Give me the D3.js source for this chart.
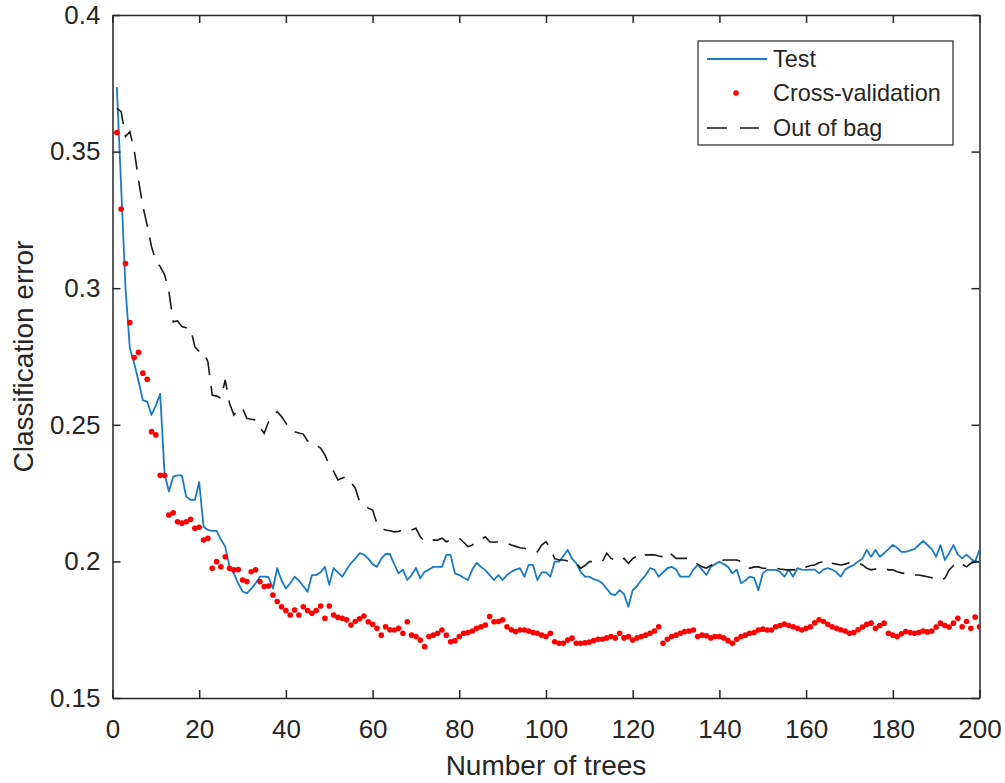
<!DOCTYPE html>
<html>
<head>
<meta charset="utf-8">
<script src="https://cdn.jsdelivr.net/npm/d3@7"></script>
<style>
  html, body { margin: 0; padding: 0; background: #fff; }
  svg { display: block; font-family: "Liberation Sans", Arial, Helvetica, sans-serif; }
</style>
</head>
<body>
<svg id="chart" width="1005" height="783"></svg>
<script>
// ---- data ----
const testError = [
  0.3736, 0.337, 0.300, 0.278, 0.2725, 0.266, 0.259, 0.2585, 0.2536, 0.257,
  0.2613, 0.2323, 0.2256, 0.231, 0.2315, 0.2315, 0.2237, 0.2225, 0.2225, 0.229,
  0.2127, 0.2115, 0.2112, 0.2112, 0.208, 0.2054, 0.198, 0.1956, 0.192, 0.189,
  0.1883, 0.190, 0.192, 0.1944, 0.1944, 0.1942, 0.1901, 0.1975, 0.193, 0.1901,
  0.192, 0.1944, 0.193, 0.191, 0.1889, 0.195, 0.195, 0.196, 0.198, 0.1914,
  0.1975, 0.196, 0.1944, 0.197, 0.1993, 0.201, 0.203, 0.2025, 0.201, 0.199,
  0.198, 0.201, 0.2027, 0.2027, 0.199, 0.1956, 0.197, 0.1932, 0.195, 0.1976,
  0.1938, 0.1962, 0.197, 0.198, 0.198, 0.198, 0.2024, 0.2024, 0.1956, 0.195,
  0.194, 0.1932, 0.197, 0.1995, 0.198, 0.1968, 0.195, 0.1932, 0.195, 0.1932,
  0.195, 0.1962, 0.197, 0.1975, 0.1944, 0.1987, 0.1987, 0.1932, 0.196, 0.196,
  0.1944, 0.1999, 0.1999, 0.202, 0.2042, 0.201, 0.1993, 0.1962, 0.1944, 0.1944,
  0.1935, 0.193, 0.192, 0.190, 0.188, 0.1877, 0.1895, 0.188, 0.1834, 0.1895,
  0.191, 0.1932, 0.195, 0.1975, 0.197, 0.1944, 0.196, 0.1975, 0.198, 0.197,
  0.1944, 0.1944, 0.1944, 0.197, 0.1987, 0.197, 0.195, 0.198, 0.199, 0.1999,
  0.199, 0.198, 0.1956, 0.197, 0.192, 0.193, 0.1944, 0.194, 0.1895, 0.1956,
  0.1969, 0.1969, 0.1969, 0.1962, 0.1944, 0.197, 0.1944, 0.1975, 0.197, 0.1969,
  0.197, 0.197, 0.1956, 0.197, 0.1975, 0.197, 0.196, 0.1944, 0.197, 0.198,
  0.1987, 0.200, 0.201, 0.2042, 0.2017, 0.2042, 0.2017, 0.203, 0.2045, 0.206,
  0.205, 0.2035, 0.2035, 0.204, 0.2045, 0.206, 0.2075, 0.206, 0.2045, 0.2017,
  0.206, 0.2005, 0.203, 0.206, 0.2025, 0.2011, 0.2025, 0.201, 0.1999, 0.2042
];

const cvError = [
  0.357, 0.329, 0.309, 0.2874, 0.2746, 0.2765, 0.2689, 0.2667, 0.2475, 0.2463,
  0.2315, 0.2315, 0.217, 0.2178, 0.2145, 0.214, 0.2145, 0.2154, 0.2121, 0.2125,
  0.2078, 0.2085, 0.1975, 0.1999, 0.198, 0.2017, 0.1975, 0.1969, 0.197, 0.1932,
  0.1926, 0.1962, 0.1969, 0.1926, 0.1908, 0.191, 0.1877, 0.1853, 0.1834, 0.182,
  0.1804, 0.1822, 0.1804, 0.1834, 0.182, 0.181, 0.182, 0.1837, 0.1792, 0.1837,
  0.1804, 0.1795, 0.1792, 0.1786, 0.1767, 0.178, 0.179, 0.18, 0.1779, 0.177,
  0.1755, 0.173, 0.1761, 0.175, 0.1749, 0.1755, 0.1737, 0.1779, 0.173, 0.1725,
  0.1712, 0.1688, 0.1725, 0.173, 0.1737, 0.1749, 0.173, 0.1706, 0.171, 0.1725,
  0.1737, 0.174, 0.1745, 0.1755, 0.1761, 0.1767, 0.1798, 0.1779, 0.178, 0.1786,
  0.1761, 0.175, 0.1743, 0.1749, 0.1749, 0.1745, 0.174, 0.1737, 0.173, 0.1725,
  0.1737, 0.1706, 0.170, 0.170, 0.1712, 0.1719, 0.170, 0.170, 0.1702, 0.1705,
  0.171, 0.1715, 0.1715, 0.172, 0.1725, 0.172, 0.1737, 0.172, 0.1725, 0.1712,
  0.172, 0.1725, 0.173, 0.1737, 0.1745, 0.1761, 0.170, 0.1715, 0.1725, 0.173,
  0.1737, 0.1743, 0.1745, 0.1749, 0.1725, 0.173, 0.1728, 0.172, 0.1725, 0.1725,
  0.172, 0.171, 0.170, 0.1715, 0.1725, 0.173, 0.1737, 0.174, 0.1749, 0.1752,
  0.1749, 0.1749, 0.1761, 0.1765, 0.1771, 0.1765, 0.1761, 0.1755, 0.1749, 0.1755,
  0.1761, 0.1775, 0.1786, 0.178, 0.177, 0.1761, 0.1755, 0.175, 0.1745, 0.1737,
  0.174, 0.175, 0.176, 0.177, 0.1774, 0.1755, 0.1765, 0.1774, 0.1737, 0.173,
  0.1725, 0.1735, 0.1743, 0.174, 0.1737, 0.174, 0.1745, 0.1742, 0.1745, 0.176,
  0.1774, 0.1765, 0.176, 0.1774, 0.1792, 0.1761, 0.178, 0.1755, 0.1796, 0.1761
];

const oobError = [
  0.3658, 0.3646, 0.3555, 0.3573, 0.3506, 0.3396, 0.3300, 0.3230, 0.3152, 0.3100,
  0.3079, 0.3050, 0.2990, 0.2877, 0.2880, 0.2860, 0.2855, 0.2853, 0.2786, 0.2768,
  0.2768, 0.2731, 0.2609, 0.2605, 0.2597, 0.2664, 0.2579, 0.2536, 0.2560, 0.2560,
  0.2524, 0.2520, 0.2518, 0.2490, 0.2469, 0.2511, 0.2530, 0.2548, 0.2530, 0.2506,
  0.2481, 0.2475, 0.2470, 0.2466, 0.2441, 0.2438, 0.2425, 0.2415, 0.2390, 0.2353,
  0.2330, 0.2298, 0.2305, 0.2310, 0.2290, 0.2268, 0.2219, 0.2207, 0.2195, 0.2188,
  0.2139, 0.2121, 0.2115, 0.2112, 0.2108, 0.2110, 0.2115, 0.2110, 0.2115, 0.2121,
  0.2090, 0.2072, 0.2075, 0.2078, 0.2078, 0.2085, 0.2072, 0.2078, 0.2080, 0.2085,
  0.2070, 0.2054, 0.2060, 0.2072, 0.2080, 0.2090, 0.2072, 0.2070, 0.2072, 0.2070,
  0.2066, 0.2060, 0.2055, 0.2050, 0.2048, 0.2042, 0.2040, 0.2035, 0.2060, 0.2072,
  0.2050, 0.2010, 0.2005, 0.2005, 0.2002, 0.2000, 0.1993, 0.1975, 0.1985, 0.1999,
  0.1999, 0.1999, 0.1999, 0.2030, 0.2011, 0.2005, 0.1999, 0.2011, 0.1993, 0.2010,
  0.2020, 0.2011, 0.2024, 0.2024, 0.2024, 0.2020, 0.2017, 0.2035, 0.2025, 0.2011,
  0.2011, 0.2011, 0.2011, 0.2000, 0.1990, 0.1980, 0.1975, 0.1985, 0.1993, 0.2000,
  0.2005, 0.2005, 0.2005, 0.2005, 0.2000, 0.1990, 0.1975, 0.1980, 0.1980, 0.1975,
  0.1975, 0.1975, 0.1975, 0.1972, 0.1970, 0.1969, 0.1969, 0.1969, 0.1969, 0.1980,
  0.1985, 0.1987, 0.1995, 0.2000, 0.2005, 0.1993, 0.1990, 0.1987, 0.1990, 0.1995,
  0.1999, 0.1995, 0.1987, 0.1975, 0.1969, 0.1972, 0.1975, 0.1975, 0.1969, 0.1969,
  0.1962, 0.1958, 0.1955, 0.1950, 0.1950, 0.1950, 0.1947, 0.1944, 0.1940, 0.1932,
  0.1932, 0.1938, 0.1969, 0.1985, 0.1999, 0.1990, 0.1980, 0.1993, 0.1999, 0.1999
];

const xTicks = [0, 20, 40, 60, 80, 100, 120, 140, 160, 180, 200];
const yTicks = [0.15, 0.2, 0.25, 0.3, 0.35, 0.4];
const yTickLabels = ["0.15", "0.2", "0.25", "0.3", "0.35", "0.4"];
const seriesNames = ["Test", "Cross-validation", "Out of bag"];
const xLabel = "Number of trees";
const yLabel = "Classification error";

// ---- layout ----
const margin = { left: 112.5, right: 979.5, top: 15, bottom: 698 };
const axisColor = "#262626";
const blue = "#1a7ac6";
const red = "#FF0000";

const svg = d3.select("#chart");
const x = d3.scaleLinear().domain([0, 200]).range([margin.left, margin.right]);
const y = d3.scaleLinear().domain([0.15, 0.4]).range([margin.bottom, margin.top]);

const pts = arr => arr.map((v, i) => ({ n: i + 1, v }));

// clip
svg.append("defs").append("clipPath").attr("id", "clip")
  .append("rect")
  .attr("x", margin.left).attr("y", margin.top)
  .attr("width", margin.right - margin.left).attr("height", margin.bottom - margin.top);

const plot = svg.append("g").attr("clip-path", "url(#clip)");

const line = d3.line().x(d => x(d.n)).y(d => y(d.v));

// Test line
plot.append("path").datum(pts(testError))
  .attr("d", line).attr("fill", "none")
  .attr("stroke", blue).attr("stroke-width", 1.8).attr("stroke-linejoin", "round");

// Cross-validation dots
plot.append("g").selectAll("circle").data(pts(cvError)).join("circle")
  .attr("cx", d => x(d.n)).attr("cy", d => y(d.v)).attr("r", 2.8)
  .attr("fill", red);

// OOB dashed
plot.append("path").datum(pts(oobError))
  .attr("d", line).attr("fill", "none")
  .attr("stroke", "#1a1a1a").attr("stroke-width", 1.6)
  .attr("stroke-dasharray", "18,11");

// ---- axes ----
const tickFont = 26;
const axB = svg.append("g").attr("transform", `translate(0,${margin.bottom})`)
  .call(d3.axisBottom(x).tickValues(xTicks).tickSizeInner(-8).tickSizeOuter(0).tickPadding(22));
const axL = svg.append("g").attr("transform", `translate(${margin.left},0)`)
  .call(d3.axisLeft(y).tickValues(yTicks).tickFormat((d, i) => yTickLabels[i])
        .tickSizeInner(-8).tickSizeOuter(0).tickPadding(12));
const axT = svg.append("g").attr("transform", `translate(0,${margin.top})`)
  .call(d3.axisTop(x).tickValues(xTicks).tickFormat("").tickSizeInner(-8).tickSizeOuter(0));
const axR = svg.append("g").attr("transform", `translate(${margin.right},0)`)
  .call(d3.axisRight(y).tickValues(yTicks).tickFormat("").tickSizeInner(-8).tickSizeOuter(0));

[axB, axL, axT, axR].forEach(g => {
  g.select(".domain").attr("stroke", axisColor).attr("stroke-width", 1.5);
  g.selectAll(".tick line").attr("stroke", axisColor).attr("stroke-width", 1.5);
  g.selectAll(".tick text").attr("fill", axisColor)
    .style("font-size", tickFont + "px")
    .style("font-family", '"Liberation Sans", Arial, sans-serif');
});

// axis labels
svg.append("text")
  .attr("x", (margin.left + margin.right) / 2).attr("y", 775)
  .attr("text-anchor", "middle").attr("fill", axisColor)
  .style("font-size", "28px").text(xLabel);

svg.append("text")
  .attr("transform", `translate(33,${(margin.top + margin.bottom) / 2}) rotate(-90)`)
  .attr("text-anchor", "middle").attr("fill", axisColor)
  .style("font-size", "28px").text(yLabel);

// ---- legend ----
const lg = svg.append("g");
const lgBox = { x: 698, y: 41, w: 255, h: 104 };
lg.append("rect")
  .attr("x", lgBox.x).attr("y", lgBox.y).attr("width", lgBox.w).attr("height", lgBox.h)
  .attr("fill", "#fff").attr("stroke", axisColor).attr("stroke-width", 1.2);

const rowY = [59, 93, 128];
lg.append("line").attr("x1", 707).attr("x2", 767).attr("y1", rowY[0]).attr("y2", rowY[0])
  .attr("stroke", blue).attr("stroke-width", 1.8);
lg.append("circle").attr("cx", 736).attr("cy", rowY[1]).attr("r", 2.8).attr("fill", red);
lg.append("line").attr("x1", 707).attr("x2", 759).attr("y1", rowY[2]).attr("y2", rowY[2])
  .attr("stroke", "#1a1a1a").attr("stroke-width", 1.6).attr("stroke-dasharray", "20,13");

lg.selectAll("text.lgt").data(seriesNames).join("text")
  .attr("class", "lgt")
  .attr("x", 773).attr("y", (d, i) => rowY[i])
  .attr("dy", "0.35em").attr("fill", axisColor)
  .style("font-size", "23.4px").text(d => d);
</script>
</body>
</html>
